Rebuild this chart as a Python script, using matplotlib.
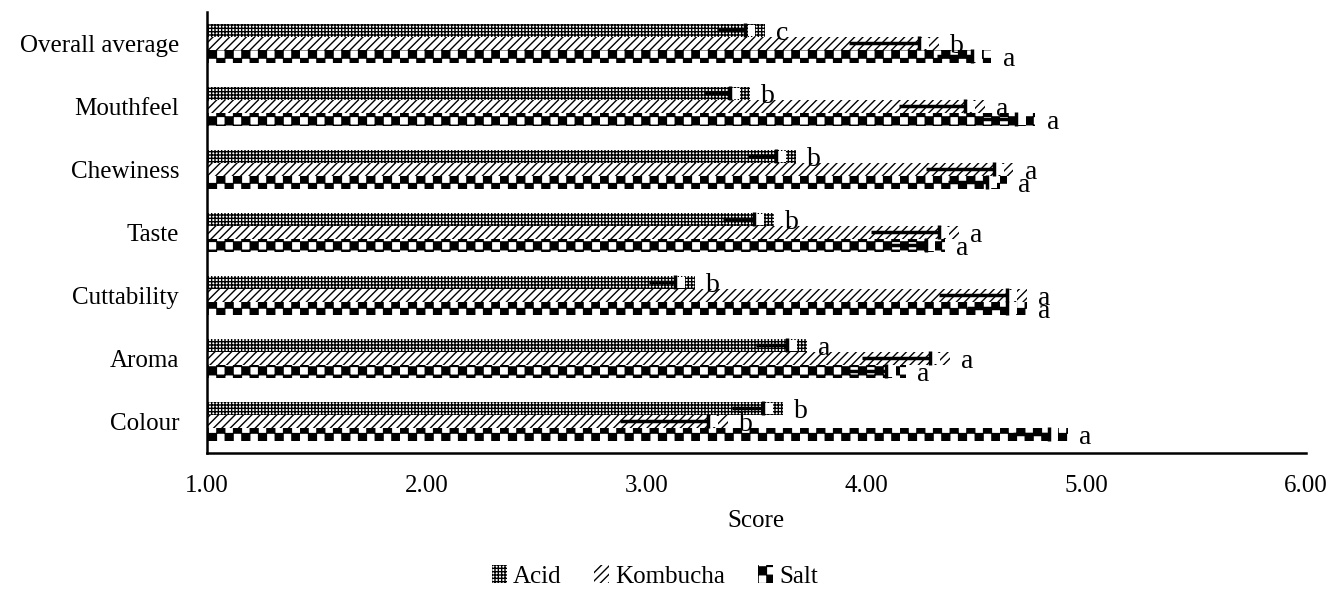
import warnings
import numpy as np
import matplotlib
matplotlib.use('Agg')
import matplotlib.pyplot as plt
import matplotlib.hatch as mhatch
from matplotlib.path import Path
from matplotlib.patches import Patch

warnings.filterwarnings('ignore')

# Sensory scores (bottom to top as drawn)
attributes = ['Colour', 'Aroma', 'Cuttability', 'Taste', 'Chewiness', 'Mouthfeel', 'Overall average']
treatments = ['Acid', 'Kombucha', 'Salt']

acid_mean = [3.62, 3.73, 3.22, 3.58, 3.68, 3.47, 3.54]
kombucha_mean = [3.37, 4.38, 4.73, 4.42, 4.67, 4.54, 4.33]
salt_mean = [4.92, 4.18, 4.73, 4.36, 4.64, 4.77, 4.57]

acid_sd = [0.14, 0.14, 0.12, 0.14, 0.13, 0.12, 0.13]
kombucha_sd = [0.40, 0.31, 0.31, 0.31, 0.31, 0.30, 0.32]
salt_sd = [0.16, 0.18, 0.18, 0.17, 0.18, 0.16, 0.16]

acid_letters = ['b', 'a', 'b', 'b', 'b', 'b', 'c']
kombucha_letters = ['b', 'a', 'a', 'a', 'a', 'a', 'b']
salt_letters = ['a', 'a', 'a', 'a', 'a', 'a', 'a']


# Checkerboard hatch for the Salt bars (not one of matplotlib's built-ins)
class CheckerHatch(mhatch.HatchPatternBase):
    def __init__(self, hatch, density):
        self.n = hatch.count('c') * density * 2
        self.num_vertices = (self.n * self.n // 2) * 5

    def set_vertices_and_codes(self, vertices, codes):
        s = 1.0 / self.n
        m = 0.03 * s
        k = 0
        for i in range(self.n):
            for j in range(self.n):
                if (i + j) % 2 == 0:
                    x0, y0 = i * s + m, j * s + m
                    x1, y1 = (i + 1) * s - m, (j + 1) * s - m
                    vertices[k:k + 5] = [(x0, y0), (x1, y0), (x1, y1), (x0, y1), (x0, y0)]
                    codes[k:k + 5] = [Path.MOVETO, Path.LINETO, Path.LINETO,
                                      Path.LINETO, Path.CLOSEPOLY]
                    k += 5


mhatch._hatch_types.append(CheckerHatch)

plt.rcParams['font.family'] = ['Liberation Serif', 'DejaVu Serif']
plt.rcParams['hatch.linewidth'] = 1.0

fig = plt.figure(figsize=(13.31, 5.92), dpi=100)
ax = fig.add_axes([0.1555, 0.235, 0.8255, 0.745])

y = np.arange(len(attributes))
h = 0.205
series = [
    (acid_mean, acid_sd, acid_letters, '+++++', h),
    (kombucha_mean, kombucha_sd, kombucha_letters, '////', 0),
    (salt_mean, salt_sd, salt_letters, 'c', -h),
]

shift = 0.09  # error bars sit a little inside the bar end, as in the original
for means, sds, letters, hatch, off in series:
    means = np.array(means)
    sds = np.array(sds)
    ax.barh(y + off, means - 1, left=1, height=h, color='white',
            edgecolor='black', hatch=hatch, linewidth=0)
    # small white gap between error cap and end of bar
    ax.barh(y + off, np.full(len(means), 0.035), left=means - shift + 0.01,
            height=h * 0.9, color='white', linewidth=0)
    # error bars (minus side)
    ax.hlines(y + off, means - shift - sds, means - shift, color='black', lw=2.5)
    ax.plot(means - shift, y + off, marker='|', ms=10, mew=2.5, color='black', ls='none')
    for xi, yi, t in zip(means, y + off, letters):
        ax.annotate(t, (xi, yi), xytext=(8, -2), textcoords='offset points',
                    ha='left', va='center', fontsize=20)

ax.set_xlim(1, 6)
ax.set_ylim(-0.5, len(attributes) - 0.5)
ax.set_xticks([1, 2, 3, 4, 5, 6])
ax.set_xticklabels(['1.00', '2.00', '3.00', '4.00', '5.00', '6.00'], fontsize=18)
ax.set_yticks(y)
ax.set_yticklabels(attributes, fontsize=18)
ax.tick_params(axis='x', length=0, pad=16)
ax.tick_params(axis='y', length=0, pad=20)
ax.set_xlabel('Score', fontsize=18, labelpad=9)

for side in ['top', 'right']:
    ax.spines[side].set_visible(False)
for side in ['left', 'bottom']:
    ax.spines[side].set_linewidth(1.8)

handles = [Patch(facecolor='white', edgecolor='black', hatch=s[3], linewidth=0, label=t)
           for s, t in zip(series, treatments)]
fig.legend(handles=handles, loc='center', bbox_to_anchor=(0.492, 0.026), ncol=3,
           frameon=False, fontsize=18, handlelength=0.6, handleheight=0.7,
           handletextpad=0.25, columnspacing=1.3)

fig.savefig('out.png', dpi=100)
